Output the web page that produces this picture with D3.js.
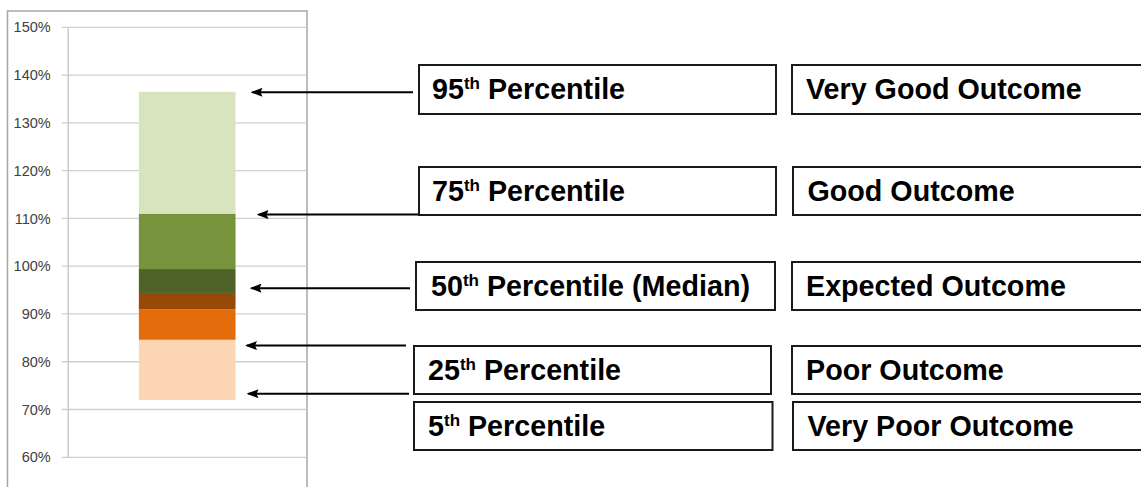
<!DOCTYPE html>
<html>
<head>
<meta charset="utf-8">
<script src="https://cdn.jsdelivr.net/npm/d3@7"></script>
<style>
  body { margin: 0; background: #fff; }
  svg { display: block; }
  .tick text { font-family: 'Liberation Sans', Arial, sans-serif; font-size: 14.5px; fill: #404040; }
  .lbl { font-family: 'Liberation Sans', Arial, sans-serif; font-weight: bold; font-size: 28.7px; fill: #000; }
</style>
</head>
<body>
<svg id="chart" width="1141" height="487"></svg>
<script>
// data
const category = ['Outcome'];
const segmentNames = ['5th-25th', '25th-40th', '40th-50th', '50th-60th', '60th-75th', '75th-95th'];
const segmentBounds = [72, 84.6, 91, 94.4, 99.4, 111, 136.5];
const segmentColors = ['#FCD5B5', '#E46C0A', '#984807', '#4F6228', '#77933C', '#D7E4BD'];
const yTicks = [60, 70, 80, 90, 100, 110, 120, 130, 140, 150];
const percentileLabels = ['95', '75', '50', '25', '5'];
const percentileSuffix = ['Percentile', 'Percentile', 'Percentile (Median)', 'Percentile', 'Percentile'];
const arrowValues = [136.4, 110.8, 95.4, 83.4, 73.3];
const outcomeLabels = ['Very Good Outcome', 'Good Outcome', 'Expected Outcome', 'Poor Outcome', 'Very Poor Outcome'];

// layout for the annotation boxes (pixels)
const arrowHeadX = [250.5, 256.5, 249.5, 245, 246.5];
const arrowTailX = [413, 418, 410, 406, 409];
const leftBoxX = [419, 419, 416, 414, 414];
const leftBoxR = [776, 776, 775, 771, 772.5];
const rightBoxX = [792, 793, 792, 792, 793];
const boxTop = [65, 167, 262, 346, 402];
const boxBottom = [114, 215, 310, 394, 450];
const leftTextX = [432, 432, 431, 428, 428];
const rightTextX = [806, 807.5, 806, 806, 807.5];
const baseOffset = 34;

const svg = d3.select('#chart');

// chart frame
svg.append('rect')
  .attr('x', 7.5).attr('y', 11)
  .attr('width', 299.5).attr('height', 500)
  .attr('fill', 'none')
  .attr('stroke', '#a6a6a6')
  .attr('stroke-width', 1.5);

const plot = { left: 67.7, right: 306.7, top: 27.3, bottom: 457.3 };

const yScale = d3.scaleLinear().domain([60, 150]).range([plot.bottom, plot.top]);
const xScale = d3.scaleBand().domain(category).range([plot.left, plot.right]).padding(0.424);

// gridlines
svg.append('g')
  .selectAll('line')
  .data(yTicks)
  .join('line')
  .attr('x1', plot.left - 6)
  .attr('x2', plot.right)
  .attr('y1', (d) => yScale(d))
  .attr('y2', (d) => yScale(d))
  .attr('stroke', '#cfcfcf')
  .attr('stroke-width', 1.3);

const yAxis = d3.axisLeft(yScale)
  .tickValues(yTicks)
  .tickFormat((d) => `${d}%`)
  .tickSize(0)
  .tickPadding(17);
const yAxisDraw = svg.append('g')
  .attr('transform', `translate(${plot.left}, 0)`)
  .call(yAxis);
yAxisDraw.select('.domain').attr('stroke', '#c4c4c4').attr('stroke-width', 1.3);

// stacked bar
const segments = segmentNames.map((name, i) => ({
  name,
  low: segmentBounds[i],
  high: segmentBounds[i + 1],
  color: segmentColors[i],
}));
svg.append('g')
  .selectAll('rect')
  .data(segments)
  .join('rect')
  .attr('x', xScale(category[0]))
  .attr('width', xScale.bandwidth())
  .attr('y', (d) => yScale(d.high))
  .attr('height', (d) => yScale(d.low) - yScale(d.high))
  .attr('fill', (d) => d.color);

// arrows (marker points along the line direction)
svg.append('defs').append('marker')
  .attr('id', 'head')
  .attr('viewBox', '0 0 12 9')
  .attr('refX', 10)
  .attr('refY', 4.5)
  .attr('markerUnits', 'userSpaceOnUse')
  .attr('markerWidth', 12)
  .attr('markerHeight', 9)
  .attr('orient', 'auto')
  .append('path')
  .attr('d', 'M0,0 L12,4.5 L0,9 L2,4.5 Z')
  .attr('fill', '#000');

const rows = percentileLabels.map((p, i) => ({
  p,
  suffix: percentileSuffix[i],
  value: arrowValues[i],
  outcome: outcomeLabels[i],
  i,
}));

svg.append('g')
  .selectAll('line')
  .data(rows)
  .join('line')
  .attr('x1', (d) => arrowTailX[d.i])
  .attr('x2', (d) => arrowHeadX[d.i] + 2)
  .attr('y1', (d) => yScale(d.value))
  .attr('y2', (d) => yScale(d.value))
  .attr('stroke', '#000')
  .attr('stroke-width', 2)
  .attr('marker-end', 'url(#head)');

// boxes
const boxes = svg.append('g');
boxes.selectAll('.lbox')
  .data(rows)
  .join('rect')
  .attr('class', 'lbox')
  .attr('x', (d) => leftBoxX[d.i])
  .attr('y', (d) => boxTop[d.i])
  .attr('width', (d) => leftBoxR[d.i] - leftBoxX[d.i])
  .attr('height', (d) => boxBottom[d.i] - boxTop[d.i])
  .attr('fill', '#fff')
  .attr('stroke', '#1a1a1a')
  .attr('stroke-width', 2);
boxes.selectAll('.rbox')
  .data(rows)
  .join('rect')
  .attr('class', 'rbox')
  .attr('x', (d) => rightBoxX[d.i])
  .attr('y', (d) => boxTop[d.i])
  .attr('width', 400)
  .attr('height', (d) => boxBottom[d.i] - boxTop[d.i])
  .attr('fill', '#fff')
  .attr('stroke', '#1a1a1a')
  .attr('stroke-width', 2);

const leftText = boxes.selectAll('.ltxt')
  .data(rows)
  .join('text')
  .attr('class', 'lbl ltxt')
  .attr('x', (d) => leftTextX[d.i])
  .attr('y', (d) => boxTop[d.i] + baseOffset);
leftText.append('tspan').text((d) => d.p);
leftText.append('tspan')
  .attr('font-size', '17px')
  .attr('dy', -10)
  .text('th');
leftText.append('tspan')
  .attr('dy', 10)
  .text((d) => ` ${d.suffix}`);

boxes.selectAll('.rtxt')
  .data(rows)
  .join('text')
  .attr('class', 'lbl rtxt')
  .attr('x', (d) => rightTextX[d.i])
  .attr('y', (d) => boxTop[d.i] + baseOffset)
  .text((d) => d.outcome);
</script>
</body>
</html>
